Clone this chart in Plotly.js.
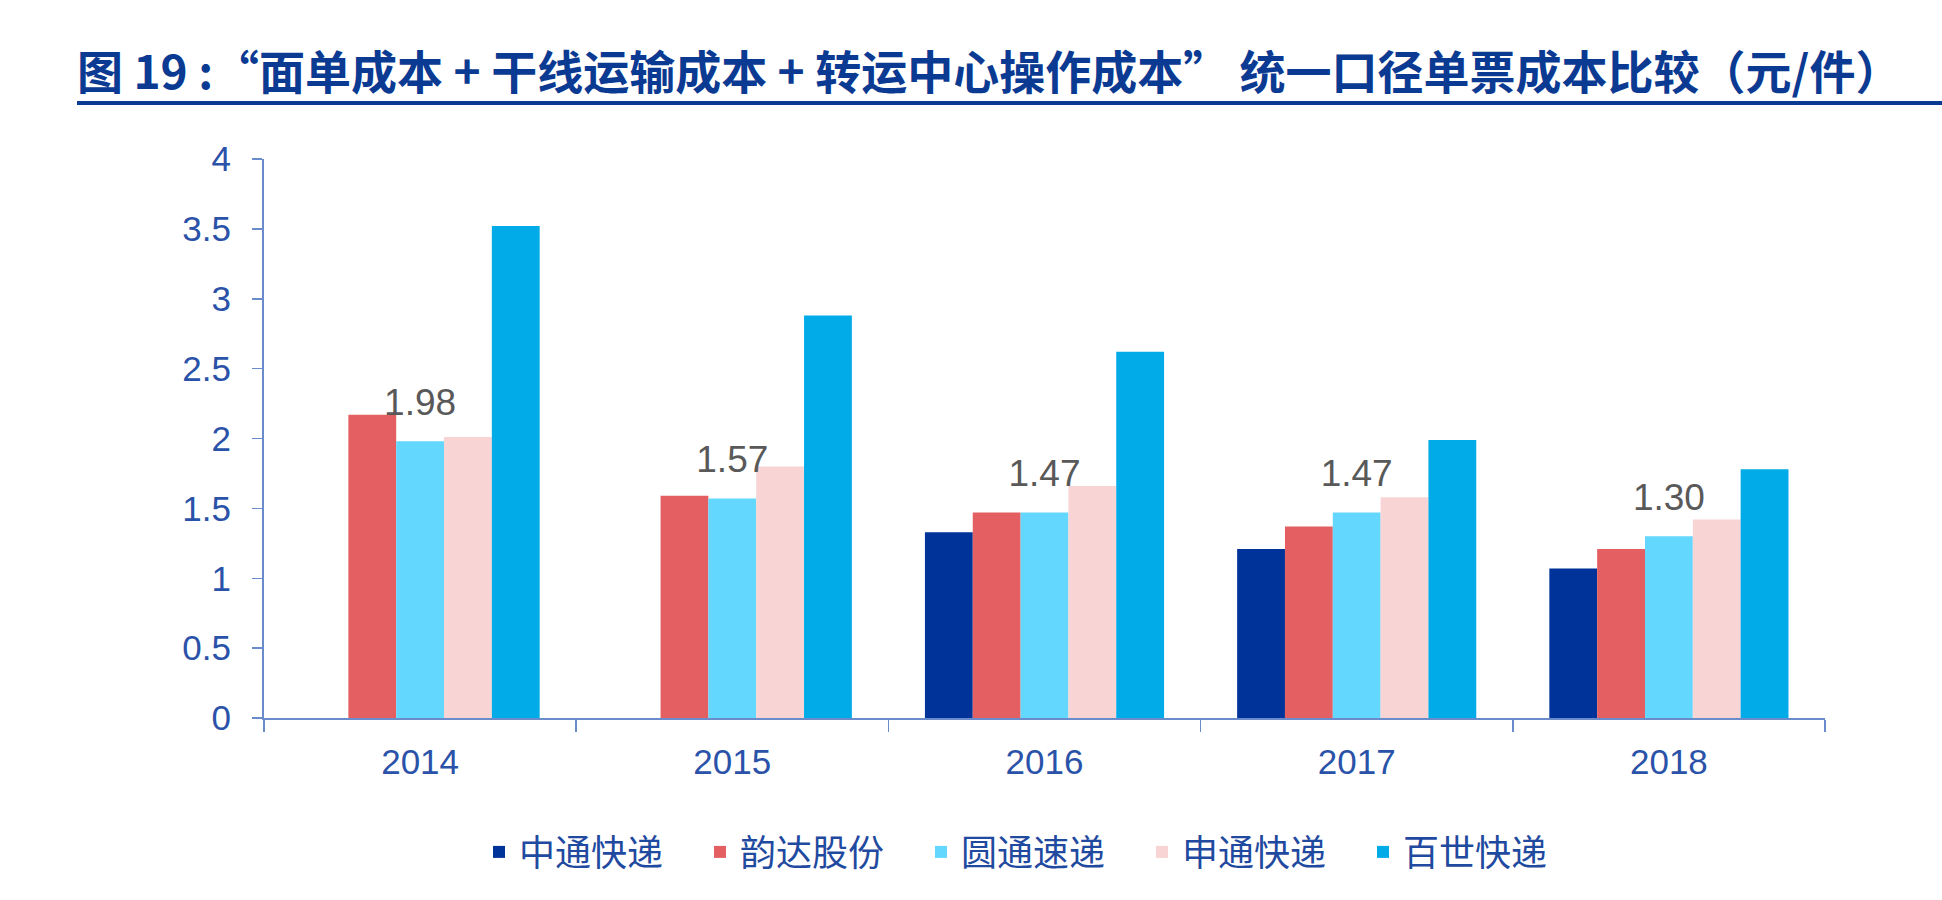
<!DOCTYPE html>
<html>
<head>
<meta charset="utf-8">
<script src="https://cdn.plot.ly/plotly-3.0.1.min.js"></script>
<style>
html,body{margin:0;padding:0;background:#fff;}
#chart{width:1942px;height:900px;}
</style>
</head>
<body>
<div id="chart"></div>
<script>
// ---- data ----
const years = ['2014', '2015', '2016', '2017', '2018'];
const seriesNames = ['中通快递', '韵达股份', '圆通速递', '申通快递', '百世快递'];
const zto   = [null, null, 1.33, 1.21, 1.07];
const yunda = [2.17, 1.59, 1.47, 1.37, 1.21];
const yto   = [1.98, 1.57, 1.47, 1.47, 1.30];
const sto   = [2.01, 1.80, 1.66, 1.58, 1.42];
const best  = [3.52, 2.88, 2.62, 1.99, 1.78];
const ytoLabels = ['1.98', '1.57', '1.47', '1.47', '1.30'];
const yTickVals = [0, 0.5, 1, 1.5, 2, 2.5, 3, 3.5, 4];
const yTickText = ['0', '0.5', '1', '1.5', '2', '2.5', '3', '3.5', '4'];

const colors = ['#003399', '#E35F61', '#63D7FE', '#F8D4D4', '#00ABE8'];
const seriesValues = [zto, yunda, yto, sto, best];

const traces = seriesValues.map((vals, i) => ({
  type: 'bar',
  name: seriesNames[i],
  x: years,
  y: vals,
  marker: {color: colors[i], line: {width: 0}},
  hoverinfo: 'x+y+name'
}));

// data labels on 圆通速递 (centre slot of each group)
traces.push({
  type: 'scatter',
  mode: 'markers+text',
  x: years,
  y: yto,
  text: ytoLabels,
  textposition: 'top center',
  textfont: {family: '"Liberation Sans", Arial, sans-serif', size: 37, color: '#595959'},
  marker: {size: 26, opacity: 0, color: '#ffffff'},
  showlegend: false,
  hoverinfo: 'skip',
  cliponaxis: false
});

const axisBlue = '#6A8CCB';
const tickFontColor = '#2A52A8';

const layout = {
  width: 1942,
  height: 900,
  paper_bgcolor: '#ffffff',
  plot_bgcolor: '#ffffff',
  barmode: 'group',
  bargap: 0.234,
  bargroupgap: 0,
  margin: {l: 264, r: 117, t: 159, b: 182},
  title: {
    text: '<b>图 19 :“面单成本 + 干线运输成本 + 转运中心操作成本” 统一口径单票成本比较（元/件）</b>',
    x: 77 / 1942,
    xanchor: 'left',
    xref: 'container',
    y: 1 - 73 / 900,
    yanchor: 'middle',
    yref: 'container',
    font: {family: '"Noto Sans CJK SC", "Noto Sans", sans-serif', size: 46, color: '#0B3A93'}
  },
  xaxis: {
    type: 'category',
    tickson: 'boundaries',
    ticks: 'outside',
    ticklen: 12,
    tickwidth: 1.5,
    tickcolor: axisBlue,
    showline: true,
    linecolor: axisBlue,
    linewidth: 2,
    showgrid: false,
    zeroline: false,
    ticklabelstandoff: 12,
    tickfont: {family: '"Liberation Sans", Arial, sans-serif', size: 35, color: tickFontColor},
    fixedrange: true
  },
  yaxis: {
    range: [0, 4],
    tickvals: yTickVals,
    ticktext: yTickText,
    ticks: 'outside',
    ticklen: 10,
    tickwidth: 1.5,
    tickcolor: axisBlue,
    showline: true,
    linecolor: axisBlue,
    linewidth: 2,
    showgrid: false,
    zeroline: false,
    ticklabelstandoff: 14,
    tickfont: {family: '"Liberation Sans", Arial, sans-serif', size: 35, color: tickFontColor},
    fixedrange: true
  },
  showlegend: true,
  legend: {
    orientation: 'h',
    x: (479 - 264) / 1561,
    xanchor: 'left',
    y: -134 / 559,
    yanchor: 'middle',
    entrywidth: 176,
    entrywidthmode: 'pixels',
    font: {family: '"Noto Sans CJK SC", sans-serif', size: 36, color: '#1F4AA0'},
    bgcolor: 'rgba(0,0,0,0)',
    traceorder: 'normal'
  },
  shapes: [{
    type: 'line',
    xref: 'paper', yref: 'paper',
    x0: (77 - 264) / 1561, x1: (1942 - 264) / 1561,
    y0: (718 - 103) / 559, y1: (718 - 103) / 559,
    line: {color: '#0B3A93', width: 4}
  }]
};

Plotly.newPlot('chart', traces, layout, {displayModeBar: false, staticPlot: true});
</script>
</body>
</html>
